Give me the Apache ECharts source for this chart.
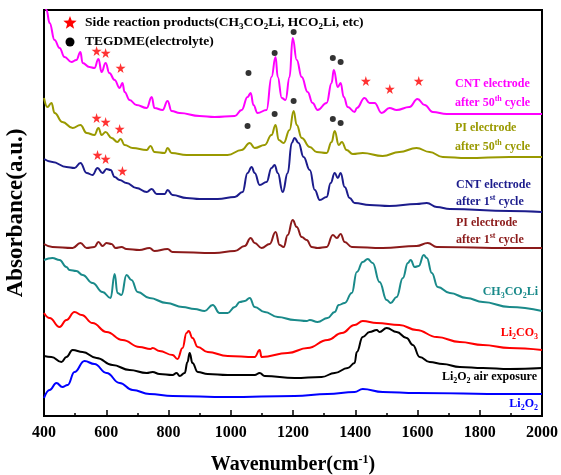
<!DOCTYPE html>
<html>
<head>
<meta charset="utf-8">
<script src="https://cdn.jsdelivr.net/npm/echarts@6/dist/echarts.min.js"></script>
<style>
  html, body { margin: 0; padding: 0; background: #fff; }
  #chart { width: 561px; height: 475px; }
</style>
</head>
<body>
<div id="chart"></div>
<script>
// spectra: [wavenumber (cm-1), stacked absorbance (a.u.)]
var cnt50 = [[400,418],[408,406],[418,393],[434,376],[450,368],[466,359],[488,354],[504,356],[517,364],[524,353],[546,349],[562,348],[575,357],[585,344],[598,353],[610,343],[627,336],[643,328],[652,333],[659,324],[675,316],[697,311],[730,308],[746,319],[755,308],[781,306],[797,315],[810,305],[836,303],[900,300],[948,299],[1013,300],[1035,306],[1054,319],[1064,323],[1073,311],[1086,303],[1115,306],[1131,339],[1144,359],[1151,339],[1164,318],[1176,316],[1189,339],[1199,378],[1212,356],[1228,339],[1247,324],[1263,313],[1279,306],[1308,313],[1324,333],[1331,346],[1344,329],[1353,333],[1363,319],[1376,309],[1398,304],[1405,308],[1430,318],[1446,313],[1462,313],[1485,303],[1510,308],[1533,306],[1574,309],[1600,317],[1623,311],[1649,304],[1694,302],[1896,302],[2000,302]];
var pi50 = [[400,318],[411,309],[424,313],[434,303],[459,294],[492,288],[517,291],[537,283],[562,281],[575,288],[585,281],[598,284],[617,278],[636,274],[646,277],[659,271],[685,268],[730,266],[742,270],[755,264],[788,263],[797,268],[810,263],[858,261],[990,261],[1035,266],[1061,273],[1077,268],[1109,271],[1131,281],[1144,291],[1154,276],[1170,273],[1189,286],[1202,305],[1212,291],[1228,278],[1254,269],[1276,264],[1308,263],[1324,274],[1334,285],[1347,271],[1357,274],[1372,266],[1392,262],[1424,263],[1488,260],[1542,264],[1597,268],[1639,264],[1681,259],[1758,258],[1896,259],[2000,259]];
var cnt1 = [[400,257],[427,254],[472,249],[498,248],[517,253],[537,243],[556,241],[572,248],[588,243],[601,247],[614,246],[627,239],[643,236],[665,233],[697,228],[730,224],[746,227],[762,222],[788,222],[797,226],[813,221],[858,218],[900,217],[958,217],[1013,219],[1038,224],[1054,243],[1067,249],[1077,243],[1093,231],[1115,234],[1131,248],[1141,251],[1151,243],[1167,224],[1183,243],[1196,273],[1205,278],[1218,273],[1234,259],[1254,246],[1270,226],[1286,216],[1308,219],[1321,233],[1334,243],[1344,238],[1353,243],[1366,229],[1382,218],[1398,213],[1446,211],[1510,210],[1597,212],[1630,213],[1662,209],[1704,207],[1896,205],[2000,204]];
var pi1 = [[400,172],[427,169],[492,168],[517,173],[537,168],[562,169],[575,174],[588,170],[601,173],[617,172],[630,168],[649,169],[665,167],[707,166],[739,168],[755,165],[797,167],[813,164],[948,163],[1013,165],[1045,170],[1064,178],[1077,173],[1099,168],[1125,172],[1144,184],[1157,171],[1170,169],[1183,181],[1199,196],[1212,189],[1228,179],[1244,176],[1260,169],[1279,168],[1308,169],[1328,181],[1341,178],[1353,182],[1366,174],[1389,169],[1488,168],[1597,170],[1633,173],[1662,169],[1896,168],[2000,168]];
var acetate = [[400,156],[427,158],[450,156],[472,149],[482,146],[504,145],[524,141],[556,133],[588,124],[614,118],[627,142],[636,123],[649,121],[665,141],[681,136],[701,124],[739,118],[794,113],[845,109],[884,107],[916,105],[942,111],[964,103],[990,103],[1013,109],[1029,114],[1045,115],[1061,118],[1077,109],[1109,104],[1151,99],[1205,96],[1244,95],[1254,96],[1279,94],[1311,98],[1334,104],[1347,111],[1366,113],[1389,123],[1405,144],[1424,154],[1440,157],[1456,153],[1478,134],[1501,116],[1514,113],[1533,119],[1553,138],[1569,153],[1578,156],[1591,149],[1604,150],[1620,161],[1630,158],[1646,143],[1665,129],[1704,123],[1758,118],[1810,114],[1896,109],[2000,105]];
var carbonate = [[400,103],[418,98],[450,89],[472,96],[498,104],[521,101],[556,93],[601,84],[652,76],[707,69],[742,67],[749,68],[771,65],[813,61],[829,57],[845,68],[858,83],[865,85],[877,78],[894,69],[926,64],[990,60],[1077,59],[1093,66],[1099,59],[1183,63],[1247,68],[1311,76],[1357,83],[1398,91],[1424,95],[1469,93],[1542,91],[1597,86],[1662,79],[1736,74],[1810,71],[1896,68],[2000,66]];
var li2o2Air = [[400,60],[424,59],[456,54],[472,59],[492,66],[524,64],[569,58],[620,51],[675,46],[730,43],[749,44],[771,42],[813,41],[826,43],[836,40],[852,43],[861,54],[868,63],[877,53],[894,44],[926,42],[990,41],[1077,41],[1093,43],[1109,40],[1205,38],[1292,39],[1334,43],[1376,48],[1398,53],[1405,64],[1424,79],[1446,84],[1469,86],[1478,84],[1501,88],[1533,84],[1565,78],[1585,71],[1607,59],[1639,54],[1681,52],[1736,49],[1810,48],[1896,47],[2000,48]];
var li2o2 = [[400,18],[418,26],[440,33],[459,29],[476,31],[498,44],[530,55],[562,52],[601,43],[643,33],[685,26],[739,22],[813,20],[990,19],[1205,20],[1311,22],[1398,24],[1424,27],[1488,24],[1597,23],[1896,22],[2000,22]];

// peak markers
var starPoints = [[569,365],[598,363],[646,348],[1434,335],[1511,327],[1604,335],[569,298],[598,294],[643,287],[572,261],[598,257],[652,245]];
var dotPoints = [[1057,343],[1141,363],[1202,384],[1328,358],[1353,354],[1054,290],[1141,302],[1202,315],[1328,297],[1353,293]];

var xTicks = [400, 600, 800, 1000, 1200, 1400, 1600, 1800, 2000];

var FONT = '"Liberation Serif", "Times New Roman", serif';
var STAR = 'path://M50,0 L61,35 L98,35 L68,57 L79,91 L50,70 L21,91 L32,57 L2,35 L39,35 Z';

// five-pointed star outline for the legend glyph
function starShape(cx, cy, r) {
  var pts = [];
  for (var i = 0; i < 10; i++) {
    var a = -Math.PI / 2 + i * Math.PI / 5;
    var rr = i % 2 === 0 ? r : r * 0.42;
    pts.push([cx + rr * Math.cos(a), cy + rr * Math.sin(a)]);
  }
  return pts;
}

function richFor(size) {
  return {
    s: { fontSize: Math.round(size * 0.65), fontFamily: FONT, fontWeight: 'bold', lineHeight: 8, verticalAlign: 'bottom' },
    p: { fontSize: Math.round(size * 0.65), fontFamily: FONT, fontWeight: 'bold', lineHeight: 8, verticalAlign: 'top' }
  };
}

function label(text, x, y, color, align, size) {
  size = size || 12;
  return {
    type: 'text',
    x: x,
    y: y,
    style: {
      text: text,
      fill: color,
      fontSize: size,
      fontFamily: FONT,
      fontWeight: 'bold',
      lineHeight: 16,
      align: align,
      verticalAlign: 'middle',
      rich: richFor(size)
    }
  };
}

function spectrum(name, data, color) {
  return {
    name: name,
    type: 'line',
    data: data,
    showSymbol: false,
    smooth: 0.45,
    smoothMonotone: 'x',
    lineStyle: { color: color, width: 2 },
    itemStyle: { color: color },
    z: 2
  };
}

var chart = echarts.init(document.getElementById('chart'));
chart.setOption({
  animation: false,
  backgroundColor: '#fff',
  grid: {
    left: 44, right: 19, top: 10, bottom: 59,
    outerBoundsMode: 'none',
    containLabel: false,
    show: true, borderColor: '#000', borderWidth: 2
  },
  xAxis: {
    type: 'value',
    min: 400,
    max: 2000,
    interval: 200,
    name: 'Wavenumber(cm{p|-1})',
    nameLocation: 'middle',
    nameGap: 38,
    nameTextStyle: {
      fontSize: 20, fontWeight: 'bold', fontFamily: FONT, color: '#000',
      lineHeight: 22,
      rich: {
        p: { fontSize: 12, fontWeight: 'bold', fontFamily: FONT, lineHeight: 10, verticalAlign: 'top' }
      }
    },
    axisLine: { lineStyle: { color: '#000', width: 2 } },
    axisTick: { inside: true, length: 6, lineStyle: { color: '#000', width: 1.5 } },
    minorTick: { show: true, splitNumber: 2, length: 3, lineStyle: { color: '#000', width: 1.5 } },
    axisLabel: {
      margin: 9, color: '#000', fontSize: 16, fontWeight: 'bold', fontFamily: FONT,
      formatter: function (v) { return xTicks.indexOf(v) >= 0 ? String(v) : ''; }
    },
    splitLine: { show: false }
  },
  yAxis: {
    type: 'value',
    min: 0,
    max: 406,
    name: 'Absorbance(a.u.)',
    nameLocation: 'middle',
    nameGap: 16,
    nameTextStyle: { fontSize: 23, fontWeight: 'bold', fontFamily: FONT, color: '#000' },
    axisLine: { show: true, lineStyle: { color: '#000', width: 2 } },
    axisTick: { show: false },
    axisLabel: { show: false },
    splitLine: { show: false }
  },
  graphic: [
    { type: 'polygon', shape: { points: starShape(70, 23, 7) }, style: { fill: '#ff0000' } },
    label('Side reaction products(CH{s|3}CO{s|2}Li, HCO{s|2}Li, etc)', 85, 23, '#000', 'left', 13.5),
    { type: 'circle', shape: { cx: 70, cy: 42, r: 4.5 }, style: { fill: '#000' } },
    label('TEGDME(electrolyte)', 85, 42, '#000', 'left', 13.5),

    label('CNT electrode', 455, 84, '#ff00ff', 'left'),
    label('after 50{p|th} cycle', 455, 103, '#ff00ff', 'left'),
    label('PI electrode', 455, 128, '#999900', 'left'),
    label('after 50{p|th} cycle', 455, 147, '#999900', 'left'),
    label('CNT electrode', 456, 185, '#1c1c8c', 'left'),
    label('after 1{p|st} cycle', 456, 202, '#1c1c8c', 'left'),
    label('PI electrode', 456, 223, '#8b1a1a', 'left'),
    label('after 1{p|st} cycle', 456, 240, '#8b1a1a', 'left'),
    label('CH{s|3}CO{s|2}Li', 538, 292, '#1a8a8a', 'right'),
    label('Li{s|2}CO{s|3}', 538, 333, '#ff0000', 'right'),
    label('Li{s|2}O{s|2} air exposure', 537, 377, '#000', 'right'),
    label('Li{s|2}O{s|2}', 538, 404, '#0000ff', 'right')
  ],
  series: [
    spectrum('CNT electrode after 50th cycle', cnt50, '#ff00ff'),
    spectrum('PI electrode after 50th cycle', pi50, '#999900'),
    spectrum('CNT electrode after 1st cycle', cnt1, '#1c1c8c'),
    spectrum('PI electrode after 1st cycle', pi1, '#8b1a1a'),
    spectrum('CH3CO2Li', acetate, '#1a8a8a'),
    spectrum('Li2CO3', carbonate, '#ff0000'),
    spectrum('Li2O2 air exposure', li2o2Air, '#000000'),
    spectrum('Li2O2', li2o2, '#0000ff'),
    {
      name: 'Side reaction products',
      type: 'scatter',
      data: starPoints,
      symbol: STAR,
      symbolSize: 10,
      itemStyle: { color: '#ff0000' },
      z: 3
    },
    {
      name: 'TEGDME',
      type: 'scatter',
      data: dotPoints,
      symbol: 'circle',
      symbolSize: 6,
      itemStyle: { color: '#000' },
      z: 3
    }
  ]
});
</script>
</body>
</html>
